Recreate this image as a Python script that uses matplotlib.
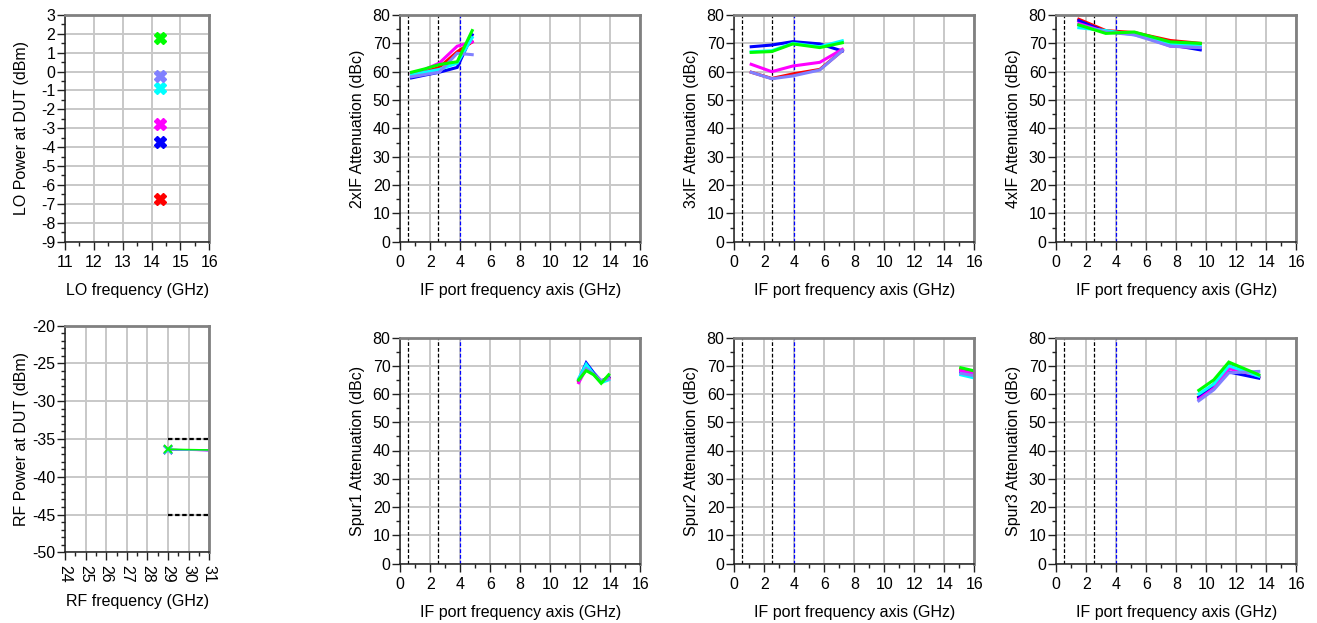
import matplotlib
matplotlib.use('Agg')
import matplotlib.pyplot as plt
from matplotlib.ticker import MultipleLocator

plt.rcParams['font.family'] = ['Liberation Sans', 'DejaVu Sans']
plt.rcParams['axes.unicode_minus'] = False

# ---------------- data ----------------
series_names = ['red', 'blue', 'magenta', 'cyan', 'purple', 'green']
series_colors = ['#ff0000', '#0000ff', '#ff00ff', '#00ffff', '#8080ff', '#00ff00']

# LO power at DUT
lo_freq = [14.3, 14.3, 14.3, 14.3, 14.3, 14.3]
lo_power = [-6.75, -3.75, -2.8, -0.85, -0.25, 1.75]

# RF power at DUT
rf_freq = [29.0, 31.0]
rf_red = [-36.4, -36.5]
rf_blue = [-36.4, -36.5]
rf_magenta = [-36.4, -36.55]
rf_cyan = [-36.4, -36.5]
rf_purple = [-36.35, -36.55]
rf_green = [-36.35, -36.45]
rf_limit_freq = [29.0, 31.0]
rf_limit_levels = [-35.0, -45.0]

# IF marker lines
if_marks_black = [0.5, 2.5]
if_marks_blue = [4.0]

# 2xIF attenuation
x2_freq = [0.75, 1.65, 2.6, 3.8, 4.8]
x2_red = [59.0, 60.0, 61.5, 67.0, 70.5]
x2_blue = [57.8, 58.8, 59.8, 61.5, 73.0]
x2_magenta = [59.3, 60.8, 63.0, 69.0, 70.5]
x2_cyan = [58.8, 59.8, 60.8, 63.0, 72.0]
x2_purple = [58.2, 59.0, 59.8, 66.5, 66.0]
x2_green = [59.8, 61.0, 62.5, 63.5, 74.5]

# 3xIF attenuation
x3_freq = [1.125, 2.5, 3.9, 5.7, 7.2]
x3_red = [59.8, 57.6, 59.2, 60.8, 67.4]
x3_blue = [68.8, 69.4, 70.6, 69.8, 67.3]
x3_magenta = [62.6, 60.0, 62.0, 63.3, 67.9]
x3_cyan = [67.0, 67.4, 70.0, 68.8, 70.9]
x3_purple = [59.8, 57.5, 58.5, 60.6, 67.4]
x3_green = [66.8, 67.1, 69.8, 68.5, 70.2]

# 4xIF attenuation
x4_freq = [1.5, 3.3, 5.2, 7.6, 9.6]
x4_red = [78.5, 74.5, 73.8, 71.0, 70.0]
x4_blue = [78.0, 74.0, 73.5, 69.5, 67.7]
x4_magenta = [77.0, 74.0, 73.5, 69.0, 68.5]
x4_cyan = [75.5, 74.5, 73.0, 70.0, 69.0]
x4_purple = [76.5, 74.0, 73.0, 69.0, 68.5]
x4_green = [76.5, 73.5, 74.0, 70.5, 70.0]

# Spur1 attenuation
s1_freq = [11.9, 12.4, 12.9, 13.4, 13.9]
s1_red = [64.5, 69.5, 67.2, 64.5, 65.8]
s1_blue = [65.0, 71.0, 67.5, 64.5, 66.0]
s1_magenta = [64.0, 69.0, 67.0, 64.3, 65.5]
s1_cyan = [65.5, 70.5, 67.0, 64.0, 65.0]
s1_purple = [65.0, 69.0, 67.0, 64.8, 65.3]
s1_green = [65.0, 68.3, 66.8, 63.8, 66.8]

# Spur2 attenuation
s2_freq = [15.1, 16.3]
s2_red = [68.8, 67.3]
s2_blue = [67.8, 66.5]
s2_magenta = [68.2, 66.9]
s2_cyan = [66.8, 65.3]
s2_purple = [67.3, 66.2]
s2_green = [69.3, 67.8]

# Spur3 attenuation
s3_freq = [9.5, 10.5, 11.5, 13.5]
s3_red = [59.0, 63.5, 70.2, 66.0]
s3_blue = [58.8, 62.5, 67.8, 65.6]
s3_magenta = [58.2, 62.0, 69.0, 66.5]
s3_cyan = [60.0, 63.5, 70.0, 66.3]
s3_purple = [57.6, 61.5, 67.5, 68.0]
s3_green = [61.3, 65.0, 71.3, 66.8]

# ---------------- layout ----------------
W, H = 1317, 623
fig = plt.figure(figsize=(W / 100, H / 100), dpi=100)

def box(left, top, right, bottom):
    return [left / W, 1 - bottom / H, (right - left) / W, (bottom - top) / H]

FS = 11.5
GRID = '#c8c8c8'

def style(ax, xlim, ylim, xmaj, xmin, ymaj, ymin, xlabel, ylabel):
    ax.set_xlim(*xlim)
    ax.set_ylim(*ylim)
    ax.xaxis.set_major_locator(MultipleLocator(xmaj))
    ax.xaxis.set_minor_locator(MultipleLocator(xmin))
    ax.yaxis.set_major_locator(MultipleLocator(ymaj))
    ax.yaxis.set_minor_locator(MultipleLocator(ymin))
    ax.grid(True, which='major', color=GRID, lw=1.4)
    ax.set_axisbelow(True)
    for s in ['top', 'right']:
        ax.spines[s].set_color('#808080')
        ax.spines[s].set_linewidth(2.0)
    for s in ['left', 'bottom']:
        ax.spines[s].set_color('#202020')
        ax.spines[s].set_linewidth(1.1)
    ax.tick_params(which='major', direction='out', length=5.5, width=1.0,
                   labelsize=FS, color='#202020', pad=1.5)
    ax.tick_params(which='minor', direction='out', length=3.2, width=1.0,
                   color='#202020')
    ax.tick_params(axis='x', which='major', pad=4)
    w_px = ax.get_position().width * W
    h_px = ax.get_position().height * H
    ax.set_xlabel(xlabel, fontsize=FS)
    ax.set_ylabel(ylabel, fontsize=FS)
    ax.xaxis.set_label_coords(0.5, -49 / h_px)
    ax.xaxis.label.set_verticalalignment('center')
    ax.yaxis.set_label_coords(-43 / w_px, 0.5)
    ax.yaxis.label.set_verticalalignment('center')

# LO panel
ax_lo = fig.add_axes(box(65, 14.8, 209.3, 241.6))
for x, y, c in zip(lo_freq, lo_power, series_colors):
    ax_lo.plot([x], [y], marker='X', ms=9, color=c, mec=c, ls='none')
style(ax_lo, (11, 16), (-9, 3), 1, 0.5, 1, 0.5, 'LO frequency (GHz)', 'LO Power at DUT (dBm)')

# RF panel
ax_rf = fig.add_axes(box(65, 325.7, 209.3, 552.3))
for lvl in rf_limit_levels:
    ax_rf.plot(rf_limit_freq, [lvl, lvl], color='k', lw=1.6, ls=(0, (2, 1.2)))
rf_series = [rf_red, rf_blue, rf_magenta, rf_cyan, rf_purple, rf_green]
for ys, c in zip(rf_series, series_colors):
    ax_rf.plot(rf_freq, ys, color=c, lw=1.1, marker='x', ms=6, mew=1.3,
               markevery=[0], clip_on=True)
style(ax_rf, (24, 31), (-50, -20), 1, 0.5, 5, 1, 'RF frequency (GHz)', 'RF Power at DUT (dBm)')
for t in ax_rf.get_xticklabels():
    t.set_rotation(-90)
    t.set_verticalalignment('top')

# IF panels
panels = [
    (box(400.2, 15, 640.2, 241.7), x2_freq, [x2_red, x2_blue, x2_magenta, x2_cyan, x2_purple, x2_green], '2xIF Attenuation (dBc)'),
    (box(734.3, 15, 974.3, 241.7), x3_freq, [x3_red, x3_blue, x3_magenta, x3_cyan, x3_purple, x3_green], '3xIF Attenuation (dBc)'),
    (box(1056.3, 15, 1296.3, 241.7), x4_freq, [x4_red, x4_blue, x4_magenta, x4_cyan, x4_purple, x4_green], '4xIF Attenuation (dBc)'),
    (box(400.2, 337.5, 640.2, 563.5), s1_freq, [s1_red, s1_blue, s1_magenta, s1_cyan, s1_purple, s1_green], 'Spur1 Attenuation (dBc)'),
    (box(734.3, 337.5, 974.3, 563.5), s2_freq, [s2_red, s2_blue, s2_magenta, s2_cyan, s2_purple, s2_green], 'Spur2 Attenuation (dBc)'),
    (box(1056.3, 337.5, 1296.3, 563.5), s3_freq, [s3_red, s3_blue, s3_magenta, s3_cyan, s3_purple, s3_green], 'Spur3 Attenuation (dBc)'),
]
for pos, xs, ys_list, ylabel in panels:
    ax = fig.add_axes(pos)
    for xm in if_marks_black:
        ax.axvline(xm, color='k', lw=0.9, ls=(0, (3, 1.6)))
    for xm in if_marks_blue:
        ax.axvline(xm, color='#0000ff', lw=0.9, ls=(0, (3, 1.6)))
    for ys, c in zip(ys_list, series_colors):
        ax.plot(xs, ys, color=c, lw=2.2, solid_joinstyle='miter')
    style(ax, (0, 16), (0, 80), 2, 1, 10, 5, 'IF port frequency axis (GHz)', ylabel)

fig.savefig('out.png', dpi=100)
